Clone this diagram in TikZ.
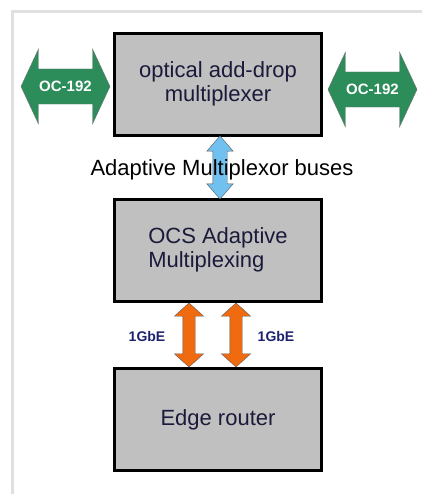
\documentclass[tikz,border=0pt]{standalone}
\usepackage{fontspec}
\setmainfont{Liberation Sans}
\usetikzlibrary{positioning,shapes.arrows,calc}
\definecolor{boxgray}{RGB}{192,192,192}
\definecolor{ocgreen}{RGB}{44,140,90}
\definecolor{busblue}{RGB}{112,192,240}
\definecolor{gbeorange}{RGB}{240,106,16}
\definecolor{inknavy}{RGB}{26,26,58}
\definecolor{gbenavy}{RGB}{30,34,110}

\begin{document}
\begin{tikzpicture}[x=1pt, y=1pt, thick,
  box/.style = {draw, line width=3pt, fill=boxgray, minimum width=207pt, minimum height=102pt,
    outer sep=0pt, text=inknavy, font=\fontsize{22}{24}\selectfont},
  oc/.style = {double arrow, draw=black!55, thin, fill=ocgreen, text=white,
    font=\bfseries\fontsize{15}{15}\selectfont, minimum height=89pt, inner xsep=1pt, inner ysep=12pt,
    double arrow head extend=20pt, double arrow tip angle=130},
  link/.style = {double arrow, draw=black!65, thin, shape border rotate=90, inner sep=7pt},
  gbe/.style = {text=gbenavy, font=\bfseries\fontsize{14}{14}\selectfont}]
\useasboundingbox (0,0) rectangle (422,494);
\draw[black!12, line width=3pt] (12,0) -- (12,482) -- (422,482);

\node[box] (oadm) at (218,409.5) {\begin{tabular}{c}optical add-drop\\multiplexer\end{tabular}};
\node[box] (ocs) [below=64pt of oadm] {\begin{tabular}{l}OCS Adaptive\\Multiplexing\end{tabular}};
\node[box] (edge) [below=67pt of ocs] {Edge router};

\node[oc] (ocl) at (65.5,407.5) {OC-192};
\node[oc] (ocr) at (372.5,404.5) {OC-192};

% buses between the boxes
\node[link, fill=busblue, minimum height=63pt, double arrow head extend=6pt, double arrow tip angle=82]
  (bus) at ($(oadm.south)!0.5!(ocs.north)+(2,0)$) {};
\node[font=\fontsize{22}{22}\selectfont] (buslbl) at ($(bus)+(2,-2.5)$) {Adaptive Multiplexor buses};

\node[link, fill=gbeorange, inner sep=6pt, minimum height=64pt, double arrow head extend=8.5pt, double arrow tip angle=96]
  (gbel) at ($(ocs.south)!0.5!(edge.north)+(-29,0)$) {};
\node[link, fill=gbeorange, inner sep=6pt, minimum height=64pt, double arrow head extend=8.5pt, double arrow tip angle=96]
  (gber) at ($(ocs.south)!0.5!(edge.north)+(18,0)$) {};
\node[gbe] (lbll) at ($(gbel)+(-42,-1)$) {1GbE};
\node[gbe] (lblr) at ($(gber)+(40,-1)$) {1GbE};
\end{tikzpicture}
\end{document}
